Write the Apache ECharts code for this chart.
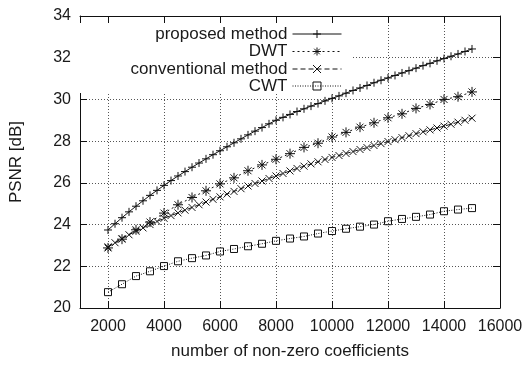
<!DOCTYPE html>
<html>
<head>
<meta charset="utf-8">
<script src="https://cdn.jsdelivr.net/npm/echarts@6.0.0/dist/echarts.min.js"></script>
<style>
  html, body { margin: 0; padding: 0; background: #fff; }
  #chart { width: 531px; height: 365px; }
</style>
</head>
<body>
<div id="chart"></div>
<script>
// sample positions (number of non-zero coefficients)
const xDense = [2000, 2250, 2500, 2750, 3000, 3250, 3500, 3750, 4000, 4250, 4500, 4750,
  5000, 5250, 5500, 5750, 6000, 6250, 6500, 6750, 7000, 7250, 7500, 7750,
  8000, 8250, 8500, 8750, 9000, 9250, 9500, 9750, 10000, 10250, 10500, 10750,
  11000, 11250, 11500, 11750, 12000, 12250, 12500, 12750, 13000, 13250, 13500, 13750,
  14000, 14250, 14500, 14750, 15000];
const xSparse = [2000, 2500, 3000, 3500, 4000, 4500, 5000, 5500, 6000, 6500, 7000, 7500,
  8000, 8500, 9000, 9500, 10000, 10500, 11000, 11500, 12000, 12500, 13000, 13500,
  14000, 14500, 15000];

// PSNR [dB]
const proposed = [23.74, 24.04, 24.33, 24.61, 24.88, 25.14, 25.40, 25.64, 25.88, 26.11, 26.33, 26.54,
  26.75, 26.95, 27.15, 27.35, 27.54, 27.73, 27.92, 28.11, 28.30, 28.48, 28.65, 28.83,
  29.00, 29.14, 29.28, 29.42, 29.55, 29.68, 29.80, 29.93, 30.05, 30.17, 30.30, 30.43,
  30.55, 30.67, 30.80, 30.92, 31.03, 31.15, 31.27, 31.38, 31.50, 31.62, 31.73, 31.85,
  31.96, 32.07, 32.18, 32.30, 32.42];
const dwt = [22.88, 23.30, 23.75, 24.12, 24.55, 24.95, 25.30, 25.62, 25.95, 26.24, 26.58, 26.86,
  27.13, 27.40, 27.70, 27.90, 28.20, 28.42, 28.67, 28.88, 29.12, 29.31, 29.57, 29.76,
  30.00, 30.13, 30.36];
const conventional = [22.93, 23.13, 23.33, 23.51, 23.68, 23.84, 24.00, 24.15, 24.30, 24.43, 24.56, 24.69,
  24.82, 24.95, 25.08, 25.21, 25.33, 25.46, 25.59, 25.72, 25.85, 25.97, 26.09, 26.21,
  26.33, 26.45, 26.57, 26.69, 26.80, 26.91, 27.01, 27.12, 27.22, 27.31, 27.41, 27.50,
  27.60, 27.69, 27.79, 27.88, 27.98, 28.07, 28.17, 28.26, 28.36, 28.45, 28.54, 28.63,
  28.72, 28.81, 28.91, 29.00, 29.10];
const cwt = [20.76, 21.14, 21.53, 21.76, 22.01, 22.24, 22.39, 22.52, 22.71, 22.83, 22.96, 23.08,
  23.22, 23.33, 23.43, 23.57, 23.69, 23.80, 23.90, 24.00, 24.16, 24.27, 24.37, 24.48,
  24.64, 24.72, 24.79];

const names = ['proposed method', 'DWT', 'conventional method', 'CWT'];

const FONT = '"Liberation Sans", Arial, sans-serif';
const INK = '#1a1a1a';

const pair = (xs, ys) => xs.map((x, i) => [x, ys[i]]);

const markPlus = 'path://M5,0 L5,10 M0,5 L10,5';
const markStar = 'path://M5,0 L5,10 M0,5 L10,5 M1.5,1.5 L8.5,8.5 M1.5,8.5 L8.5,1.5';
const markCross = 'path://M0,0 L10,10 M0,10 L10,0';
const markBox = 'path://M0,0 L10,0 L10,10 L0,10 Z';

function lineSeries(name, data, symbol, size, dash) {
  return {
    name: name,
    type: 'line',
    data: data,
    symbol: symbol,
    symbolSize: size,
    showAllSymbol: true,
    itemStyle: { color: 'rgba(0,0,0,0)', borderColor: '#111', borderWidth: 1 },
    lineStyle: { color: '#111', width: 1, type: dash },
    emphasis: { disabled: true },
    z: 3
  };
}

const legendRows = [25.5, 43, 60.5, 77.5];

const chart = echarts.init(document.getElementById('chart'), null, { renderer: 'canvas' });

chart.setOption({
  animation: false,
  textStyle: { fontFamily: FONT },
  grid: { left: 77, right: 31, top: 16, bottom: 52 },
  graphic: {
    elements: [{
      type: 'rect',
      z: 1,
      shape: { x: 78, y: 17, width: 275, height: 76 },
      style: { fill: '#fff' }
    }]
  },
  legend: names.map((n, i) => ({
    data: [n],
    right: 189,
    top: legendRows[i],
    padding: 0,
    align: 'right',
    itemWidth: 49,
    itemHeight: 10,
    selectedMode: false,
    itemStyle: { color: 'rgba(0,0,0,0)', borderColor: '#111', borderWidth: 1 },
    lineStyle: { color: '#111', width: 1 },
    textStyle: { fontSize: 17, color: INK, fontFamily: FONT }
  })),
  xAxis: [{
    type: 'value',
    min: 1000,
    max: 16000,
    splitNumber: 7,
    minInterval: 2000,
    maxInterval: 2000,
    name: 'number of non-zero coefficients',
    nameLocation: 'middle',
    nameGap: 35,
    nameTextStyle: { fontSize: 17, color: INK },
    axisLine: { lineStyle: { color: '#111', width: 1 } },
    axisTick: { inside: true, length: 7, lineStyle: { color: '#111' } },
    axisLabel: {
      showMinLabel: false,
      fontSize: 16,
      color: INK,
      margin: 11,
      formatter: v => String(v)
    },
    splitLine: { show: true, lineStyle: { color: '#555', type: [1, 2] } }
  }, {
    type: 'value',
    position: 'top',
    min: 1000,
    max: 16000,
    splitNumber: 7,
    minInterval: 2000,
    maxInterval: 2000,
    z: 5,
    axisLine: { lineStyle: { color: '#111', width: 1 } },
    axisTick: { inside: true, length: 7, lineStyle: { color: '#111' } },
    axisLabel: { show: false },
    splitLine: { show: false }
  }],
  yAxis: [{
    type: 'value',
    min: 20,
    max: 34,
    interval: 2,
    name: 'PSNR [dB]',
    nameLocation: 'middle',
    nameGap: 55,
    nameTextStyle: { fontSize: 17, color: INK },
    axisLine: { show: true, lineStyle: { color: '#111', width: 1 } },
    axisTick: { show: true, inside: true, length: 7, lineStyle: { color: '#111' } },
    axisLabel: { fontSize: 16, color: INK, margin: 9 },
    splitLine: { show: true, lineStyle: { color: '#555', type: [1, 2] } }
  }, {
    type: 'value',
    position: 'right',
    min: 20,
    max: 34,
    interval: 2,
    z: 5,
    axisLine: { show: true, lineStyle: { color: '#111', width: 1 } },
    axisTick: { show: true, inside: true, length: 7, lineStyle: { color: '#111' } },
    axisLabel: { show: false },
    splitLine: { show: false }
  }],
  series: [
    lineSeries(names[0], pair(xDense, proposed), markPlus, 8, 'solid'),
    lineSeries(names[1], pair(xSparse, dwt), markStar, 10, [2, 3]),
    lineSeries(names[2], pair(xDense, conventional), markCross, 7, [5, 3]),
    lineSeries(names[3], pair(xSparse, cwt), markBox, 7, [1, 1.5])
  ]
});
</script>
</body>
</html>
